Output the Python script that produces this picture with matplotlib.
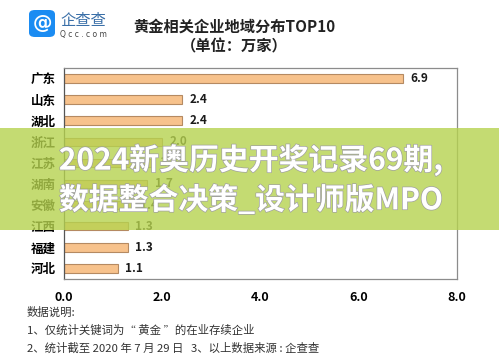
import matplotlib
matplotlib.use("Agg")
import matplotlib.pyplot as plt
from matplotlib.patches import Rectangle, FancyBboxPatch
import matplotlib.patheffects as pe

plt.rcParams['font.family'] = ['Noto Sans CJK SC', 'DejaVu Sans']

regions = ["广东", "山东", "湖北", "浙江", "江苏", "湖南", "安徽", "江西", "福建", "河北"]
counts = [6.9, 2.4, 2.4, 2.0, 1.8, 1.7, 1.4, 1.3, 1.3, 1.1]
xticks = [0.0, 2.0, 4.0, 6.0, 8.0]

fig = plt.figure(figsize=(4.99, 3.59), dpi=100)
fig.patch.set_facecolor('white')
ax = fig.add_axes([0.128, 0.223, 0.788, 0.588])

ypos = list(range(len(regions)))
ax.barh(ypos, counts, height=0.4, color='#f7c28c', edgecolor='#b58a62', linewidth=0.8)
for y, v in zip(ypos, counts):
    ax.text(v + 0.15, y, "%.1f" % v, va='center', ha='left', fontsize=8.5,
            fontweight='bold', color='#1a1a1a')

ax.set_xlim(0, 8)
ax.set_ylim(len(regions) - 0.5, -0.5)
ax.set_yticks(ypos)
ax.set_yticklabels(regions, fontsize=9, fontweight='bold')
ax.set_xticks(xticks)
ax.set_xticklabels(["%.1f" % t for t in xticks], fontsize=9, fontweight='bold')
ax.tick_params(axis='both', length=0)
ax.tick_params(axis='x', pad=9)
ax.tick_params(axis='y', pad=6)
for s in ax.spines.values():
    s.set_color('#8c8c8c')
    s.set_linewidth(0.9)
ax.spines['left'].set_color('#555555')

# logo
fig.patches.append(FancyBboxPatch((29 / 499, 1 - 37 / 359), 26 / 499, 27 / 359,
                                  boxstyle="round,pad=0,rounding_size=0.012",
                                  transform=fig.transFigure, facecolor='#1b8cf2',
                                  edgecolor='none'))
fig.text(42 / 499, 1 - 23.5 / 359, "@", color='white', fontsize=14, fontweight='bold',
         ha='center', va='center', family='DejaVu Sans')
fig.text(60 / 499, 1 - 20 / 359, "企查查", color='#3a6fa8', fontsize=11, ha='left', va='center')
fig.text(60 / 499, 1 - 34 / 359, "Q c c . c o m", color='#444444', fontsize=5.5,
         ha='left', va='center', family='DejaVu Sans')

# title
fig.text(234 / 499, 1 - 27 / 359, "黄金相关企业地域分布TOP10", fontsize=11, fontweight='bold',
         ha='center', va='center', color='#222222')
fig.text(234 / 499, 1 - 46 / 359, "（单位：万家）", fontsize=11, fontweight='bold',
         ha='center', va='center', color='#222222')

# footnotes
notes = ["数据说明:", "1、仅统计关键词为“ 黄金 ”的在业存续企业",
         "2、统计截至 2020 年 7 月 29 日   3、以上数据来源 : 企查查"]
for i, n in enumerate(notes):
    fig.text(27 / 499, 1 - (312 + 18 * i) / 359, n, fontsize=8.2, ha='left', va='center',
             color='#333333')

# overlay band
band = Rectangle((0, 1 - 230 / 359), 1, 102 / 359, transform=fig.transFigure,
                 facecolor='#b6d34f', alpha=0.8, edgecolor='none', zorder=5)
fig.patches.append(band)
fx = [pe.withStroke(linewidth=1.0, foreground='#a0a0a0')]
fig.text(251 / 499, 1 - 160 / 359, "2024新奥历史开奖记录69期,", fontsize=21.5, fontweight='heavy',
         ha='center', va='center', color='white', zorder=6, path_effects=fx)
fig.text(251 / 499, 1 - 200 / 359, "数据整合决策_设计师版MPO", fontsize=21.5, fontweight='heavy',
         ha='center', va='center', color='white', zorder=6, path_effects=fx)

fig.savefig('out.png', dpi=100)
